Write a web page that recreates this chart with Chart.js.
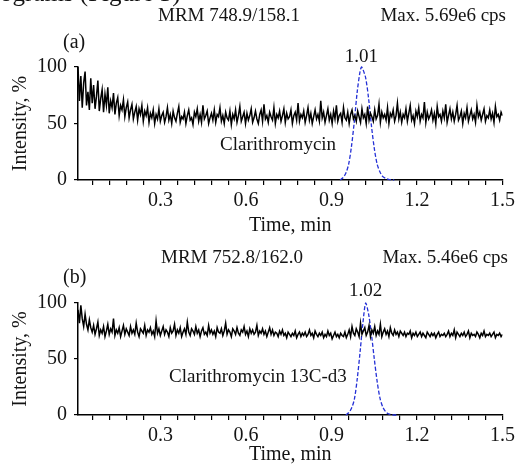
<!DOCTYPE html>
<html lang="en">
<head>
    <meta charset="UTF-8">
    <title>Clarithromycin MRM chromatograms</title>
    <style>
        body {
            margin: 0;
            padding: 0;
            background: #fff;
            width: 519px;
            height: 469px;
            overflow: hidden;
            position: relative;
        }
        .panel {
            position: absolute;
            left: 0;
            width: 519px;
            height: 240px;
        }
        #panelA { top: 0; }
        #panelB { top: 235px; }
    </style>
</head>
<body>
    <div class="panel" id="panelA"><canvas id="chartA" width="519" height="240"></canvas></div>
    <div class="panel" id="panelB"><canvas id="chartB" width="519" height="240"></canvas></div>
    <script src="https://cdn.jsdelivr.net/npm/chart.js"></script>
    <script>
    // scan settings of the noisy trace (min)
    const scanStart = 0.01;
    const scanStep = 0.0049833;

    // (a) Clarithromycin, MRM 748.9/158.1 - background trace, %
    const traceA = [
        100, 70, 92, 64, 86, 96, 66, 78, 62, 90,
        68, 84, 63, 74, 88, 61, 72, 80, 60, 76,
        66, 82, 59, 70, 64, 77, 58, 68, 73, 57,
        66, 62, 71, 56, 64, 69, 55, 62, 67, 54,
        60, 65, 53, 63, 58, 66, 52, 61, 57, 64,
        51, 59, 55, 62, 50, 58, 54, 63, 52, 57,
        60, 51, 56, 64, 53, 58, 50, 61, 55, 52,
        59, 65, 51, 56, 54, 60, 50, 57, 62, 53,
        55, 49, 60, 56, 63, 52, 58, 51, 66, 54,
        57, 61, 50, 55, 59, 53, 62, 51, 58, 56,
        64, 52, 57, 50, 60, 55, 53, 61, 49, 58,
        54, 62, 51, 57, 65, 52, 56, 60, 50, 59,
        53, 57, 63, 51, 55, 61, 54, 50, 58, 62,
        52, 67, 54, 57, 51, 60, 56, 53, 64, 50,
        58, 55, 61, 52, 57, 63, 51, 59, 54, 56,
        62, 50, 57, 60, 53, 68, 52, 58, 55, 61,
        51, 57, 64, 53, 59, 50, 56, 62, 54, 58,
        52, 70, 55, 60, 51, 57, 63, 53, 58, 50,
        61, 54, 66, 52, 57, 59, 51, 64, 55, 53,
        60, 50, 58, 62, 54, 57, 52, 61, 56, 51,
        63, 55, 58, 50, 65, 53, 59, 56, 52, 62,
        54, 57, 67, 51, 60, 55, 58, 53, 64, 50,
        59, 56, 62, 52, 57, 68, 54, 60, 51, 58,
        55, 63, 52, 59, 66, 53, 57, 50, 61, 56,
        64, 52, 58, 55, 69, 51, 60, 54, 57, 62,
        53, 59, 50, 65, 56, 58, 52, 61, 55, 67,
        51, 57, 63, 54, 60, 52, 58, 66, 53, 56,
        61, 50, 59, 55, 64, 52, 57, 62, 54, 58,
        51, 66, 56, 60, 53, 58, 63, 52, 57, 55,
        62, 54, 59, 51, 65, 56, 58, 53, 60, 57
    ];
    // (a) analyte peak (blue dashed)
    const peakTimesA = [0.93, 0.94, 0.95, 0.96, 0.97, 0.98, 0.99, 1.00, 1.005, 1.01, 1.02, 1.03, 1.04, 1.05, 1.06, 1.07, 1.08, 1.09, 1.10, 1.11, 1.12];
    const peakValuesA = [0, 2, 6, 14, 30, 52, 78, 96, 100, 98, 90, 72, 48, 28, 14, 7, 3, 1.5, 0.5, 0.2, 0];

    // (b) Clarithromycin 13C-d3, MRM 752.8/162.0 - background trace, %
    const traceB = [
        94, 82, 98, 86, 79, 90, 81, 76, 85, 78,
        74, 80, 72, 77, 83, 71, 76, 73, 79, 70,
        75, 81, 72, 77, 74, 86, 71, 76, 73, 78,
        70, 75, 80, 72, 77, 74, 71, 79, 73, 76,
        72, 82, 74, 70, 77, 75, 73, 80, 71, 76,
        74, 78, 72, 75, 70, 84, 73, 77, 71, 75,
        79, 72, 76, 74, 70, 78, 73, 75, 81, 71,
        76, 73, 78, 70, 74, 77, 72, 83, 74, 71,
        77, 75, 72, 79, 73, 76, 70, 75, 78, 72,
        74, 71, 80, 73, 76, 72, 75, 70, 78, 74,
        73, 77, 71, 75, 82, 72, 76, 74, 70, 77,
        75, 72, 78, 73, 71, 76, 74, 79, 72, 75,
        70, 77, 73, 76, 72, 74, 80, 71, 75, 73,
        77, 72, 75, 70, 74, 78, 72, 76, 71, 74,
        73, 70, 75, 72, 76, 71, 73, 69, 74, 72,
        70, 73, 71, 75, 69, 72, 74, 70, 73, 71,
        74, 70, 72, 76, 71, 73, 69, 75, 72, 70,
        73, 71, 74, 69, 72, 70, 75, 71, 73, 68,
        71, 74, 70, 72, 69, 73, 71, 70, 74, 69,
        72, 76, 70, 79, 73, 71, 77, 74, 70, 82,
        72, 75, 78, 71, 74, 80, 70, 76, 73, 79,
        71, 75, 72, 81, 70, 74, 77, 72, 75, 70,
        78, 73, 71, 76, 72, 74, 70, 75, 73, 71,
        74, 70, 73, 72, 75, 69, 73, 71, 74, 70,
        72, 74, 70, 73, 71, 69, 74, 72, 70, 73,
        71, 73, 69, 72, 74, 70, 72, 71, 73, 70,
        72, 75, 70, 73, 71, 76, 69, 74, 72, 70,
        73, 71, 74, 70, 72, 75, 69, 73, 71, 72,
        70, 74, 72, 69, 73, 71, 75, 70, 72, 71,
        73, 70, 72, 74, 69, 72, 71, 73, 70, 72
    ];
    const peakTimesB = [0.95, 0.96, 0.97, 0.98, 0.99, 1.00, 1.01, 1.02, 1.03, 1.04, 1.05, 1.06, 1.07, 1.08, 1.09, 1.10, 1.11, 1.12, 1.13];
    const peakValuesB = [0, 2, 6, 14, 32, 56, 82, 100, 90, 72, 50, 30, 15, 7, 3, 1, 0.3, 0, 0];

    // axes
    const timeMin = 0.01, timeMax = 1.5;
    const timeMinorStep = 0.06;
    const timeLabels = [0.3, 0.6, 0.9, 1.2, 1.5];
    const intensityTicks = [0, 50, 100];

    const FONT = "'Liberation Serif', 'Times New Roman', serif";
    const INK = '#141414';

    function toPoints(xs, ys) {
        return ys.map((y, i) => ({ x: xs[i], y: y }));
    }
    function traceTimes(n) {
        const t = [];
        for (let i = 0; i < n; i++) t.push(+(scanStart + i * scanStep).toFixed(4));
        return t;
    }

    // draws the labels around and inside the plot
    const textPlugin = {
        id: 'panelText',
        afterDraw(chart, args, opts) {
            const ctx = chart.ctx;
            const xs = chart.scales.x;
            ctx.save();
            ctx.fillStyle = INK;
            (opts.items || []).forEach(it => {
                ctx.font = (it.size || 19) + 'px ' + FONT;
                ctx.textAlign = it.align || 'left';
                ctx.textBaseline = it.baseline || 'middle';
                const x = it.time !== undefined ? xs.getPixelForValue(it.time) : it.x;
                ctx.fillText(it.text, x, it.y);
            });
            ctx.restore();
        }
    };

    function makeChart(id, trace, peakT, peakV, cfg) {
        const minorTicks = [];
        for (let v = timeMinorStep; v <= timeMax + 1e-9; v += timeMinorStep) minorTicks.push(+v.toFixed(2));

        return new Chart(document.getElementById(id), {
            type: 'line',
            data: {
                datasets: [{
                    data: toPoints(traceTimes(trace.length), trace),
                    borderColor: '#000',
                    borderWidth: 1.5,
                    pointRadius: 0,
                    tension: 0
                }, {
                    data: toPoints(peakT, peakV),
                    borderColor: '#2430d6',
                    borderWidth: 1.3,
                    borderDash: [4, 2],
                    pointRadius: 0,
                    tension: 0.3,
                    clip: 6
                }]
            },
            options: {
                responsive: false,
                animation: false,
                events: [],
                layout: { padding: { left: 0, top: cfg.top, right: 14, bottom: 0 } },
                plugins: {
                    legend: { display: false },
                    tooltip: { enabled: false },
                    panelText: { items: cfg.texts }
                },
                scales: {
                    x: {
                        type: 'linear',
                        min: timeMin,
                        max: timeMax,
                        afterBuildTicks: s => { s.ticks = minorTicks.map(v => ({ value: v })); },
                        afterFit: s => { s.height = 60; },
                        border: { color: '#000', width: 1.5 },
                        grid: { drawOnChartArea: false, drawTicks: true, tickLength: 5, color: '#000', lineWidth: 1.2 },
                        ticks: {
                            autoSkip: false,
                            maxRotation: 0,
                            padding: 4,
                            color: INK,
                            font: { family: FONT, size: 20 },
                            callback: v => timeLabels.some(l => Math.abs(l - v) < 1e-6) ? v.toFixed(1) : ''
                        },
                        title: {
                            display: true,
                            text: 'Time, min',
                            color: INK,
                            font: { family: FONT, size: 20, lineHeight: 1 },
                            padding: { top: 0, bottom: cfg.xTitlePad }
                        }
                    },
                    y: {
                        min: 0,
                        max: 100,
                        afterBuildTicks: s => { s.ticks = intensityTicks.map(v => ({ value: v })); },
                        afterFit: s => { s.width = 78; },
                        border: { color: '#000', width: 1.5 },
                        grid: { drawOnChartArea: false, drawTicks: true, tickLength: 4, color: '#000', lineWidth: 1.2 },
                        ticks: {
                            padding: 7,
                            color: INK,
                            font: { family: FONT, size: 20 }
                        },
                        title: {
                            display: true,
                            text: 'Intensity, %',
                            color: INK,
                            font: { family: FONT, size: 20, lineHeight: 1 },
                            padding: { top: 11, bottom: 0 }
                        }
                    }
                }
            },
            plugins: [textPlugin]
        });
    }

    makeChart('chartA', traceA, peakTimesA, peakValuesA, {
        top: 67,
        xTitlePad: 4,
        texts: [
            { text: 'ograms (Figure 3)', x: 0, y: 1, size: 25, baseline: 'alphabetic' },
            { text: 'MRM 748.9/158.1', x: 158, y: 16 },
            { text: 'Max. 5.69e6 cps', x: 506, y: 16, align: 'right' },
            { text: '(a)', x: 63, y: 43, size: 20 },
            { text: '1.01', time: 1.005, y: 57, align: 'center' },
            { text: 'Clarithromycin', x: 220, y: 145 }
        ]
    });

    makeChart('chartB', traceB, peakTimesB, peakValuesB, {
        top: 68,
        xTitlePad: 10,
        texts: [
            { text: 'MRM 752.8/162.0', x: 161, y: 23 },
            { text: 'Max. 5.46e6 cps', x: 508, y: 23, align: 'right' },
            { text: '(b)', x: 63, y: 43, size: 20 },
            { text: '1.02', time: 1.02, y: 56, align: 'center' },
            { text: 'Clarithromycin 13C-d3', x: 169, y: 142 }
        ]
    });
    </script>
</body>
</html>
